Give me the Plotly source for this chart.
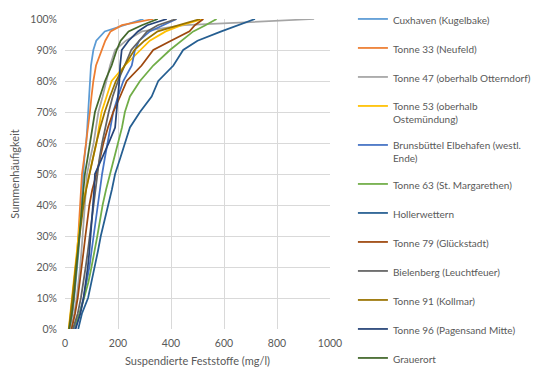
import plotly.graph_objects as go

# cumulative frequency levels (fraction)
levels = [0, 0.05, 0.10, 0.15, 0.20, 0.25, 0.30, 0.35, 0.40, 0.45, 0.50, 0.55,
          0.60, 0.65, 0.70, 0.75, 0.80, 0.85, 0.90, 0.93, 0.96, 0.98, 1.00]

series_names = [
    "Cuxhaven (Kugelbake)",
    "Tonne 33 (Neufeld)",
    "Tonne 47 (oberhalb Otterndorf)",
    "Tonne 53 (oberhalb<br>Ostemündung)",
    "Brunsbüttel Elbehafen (westl.<br>Ende)",
    "Tonne 63 (St. Margarethen)",
    "Hollerwettern",
    "Tonne 79 (Glückstadt)",
    "Bielenberg (Leuchtfeuer)",
    "Tonne 91 (Kollmar)",
    "Tonne 96 (Pagensand Mitte)",
    "Grauerort",
]

# suspended solids (mg/l) at each cumulative level
cuxhaven     = [18, 28, 35, 41, 46, 51, 55, 58, 62, 65, 69, 73, 80, 84, 88, 91, 94, 98, 107, 118, 150, 220, 296]
tonne33      = [16, 26, 33, 38, 42, 46, 50, 54, 57, 60, 64, 72, 80, 87, 94, 100, 107, 117, 138, 152, 172, 215, 333]
tonne47      = [22, 35, 44, 51, 57, 62, 67, 71, 75, 79, 83, 95, 108, 117, 126, 142, 157, 170, 189, 230, 290, 450, 940]
tonne53      = [14, 20, 26, 32, 38, 44, 50, 57, 66, 78, 92, 105, 119, 128, 138, 157, 176, 226, 283, 320, 380, 440, 522]
brunsbuettel = [35, 55, 70, 82, 92, 100, 108, 115, 122, 130, 140, 150, 160, 170, 182, 200, 220, 252, 264, 280, 320, 370, 421]
tonne63      = [30, 55, 72, 88, 100, 112, 122, 132, 142, 155, 170, 185, 201, 215, 226, 245, 283, 333, 396, 440, 484, 530, 572]
hollerwetter = [50, 64, 87, 100, 113, 124, 135, 150, 163, 177, 189, 208, 226, 245, 283, 327, 352, 409, 446, 500, 590, 650, 717]
tonne79      = [25, 38, 48, 56, 63, 70, 77, 84, 92, 103, 119, 132, 145, 162, 182, 208, 233, 289, 333, 400, 470, 490, 522]
bielenberg   = [30, 48, 60, 70, 78, 86, 93, 100, 107, 114, 121, 130, 140, 152, 165, 180, 200, 225, 250, 280, 310, 350, 420]
tonne91      = [15, 22, 28, 34, 40, 47, 54, 62, 70, 80, 92, 105, 118, 133, 150, 170, 192, 225, 262, 300, 350, 430, 510]
tonne96      = [40, 58, 70, 79, 86, 92, 97, 102, 106, 110, 113, 140, 165, 189, 195, 201, 205, 208, 214, 240, 275, 310, 384]
grauerort    = [16, 26, 33, 39, 44, 49, 54, 59, 63, 68, 75, 85, 94, 103, 113, 132, 151, 176, 195, 210, 240, 290, 350]

series_values = [cuxhaven, tonne33, tonne47, tonne53, brunsbuettel, tonne63,
                 hollerwetter, tonne79, bielenberg, tonne91, tonne96, grauerort]

colors = ["#5B9BD5", "#ED7D31", "#A5A5A5", "#FFC000", "#4472C4", "#70AD47",
          "#255E91", "#9E480E", "#636363", "#997300", "#264478", "#43682B"]

x_ticks = [0, 200, 400, 600, 800, 1000]

fig = go.Figure()
for i, (name, vals) in enumerate(zip(series_names, series_values)):
    fig.add_trace(go.Scatter(
        x=vals, y=levels, mode="lines", name=name,
        legendgroup=f"g{i}",
        line=dict(color=colors[i], width=1.75),
    ))

font_family = "Lato, 'Open Sans', sans-serif"
fig.update_layout(
    width=548, height=372,
    margin=dict(l=65, r=218, t=19, b=43),
    paper_bgcolor="white", plot_bgcolor="white",
    font=dict(family=font_family, size=11, color="#595959"),
    xaxis=dict(range=[0, 1000], tickvals=x_ticks, showgrid=True,
               gridcolor="#D9D9D9", gridwidth=1, zeroline=False,
               showline=False, ticks="", automargin=False,
               ticklabelstandoff=6,
               title=dict(text="Suspendierte Feststoffe (mg/l)",
                          font=dict(size=11, color="#595959"), standoff=9),
               tickfont=dict(size=10.5)),
    yaxis=dict(range=[0, 1], dtick=0.1, tickformat=".0%", showgrid=True,
               gridcolor="#D9D9D9", gridwidth=1, zeroline=False,
               showline=False, ticks="", ticklabelstandoff=7,
               automargin=False,
               title=dict(text="Summenhäufigkeit",
                          font=dict(size=11, color="#595959"), standoff=8),
               tickfont=dict(size=10.5)),
    legend=dict(xref="container", yref="container",
                x=0.644, y=0.984, xanchor="left", yanchor="top",
                font=dict(size=10, color="#595959"),
                tracegroupgap=10, itemwidth=30, valign="top",
                maxheight=600,
                bgcolor="rgba(0,0,0,0)"),
    showlegend=True,
)

fig.write_html("out.html", config={"displayModeBar": False},
               post_script="document.body.style.margin='0';")
